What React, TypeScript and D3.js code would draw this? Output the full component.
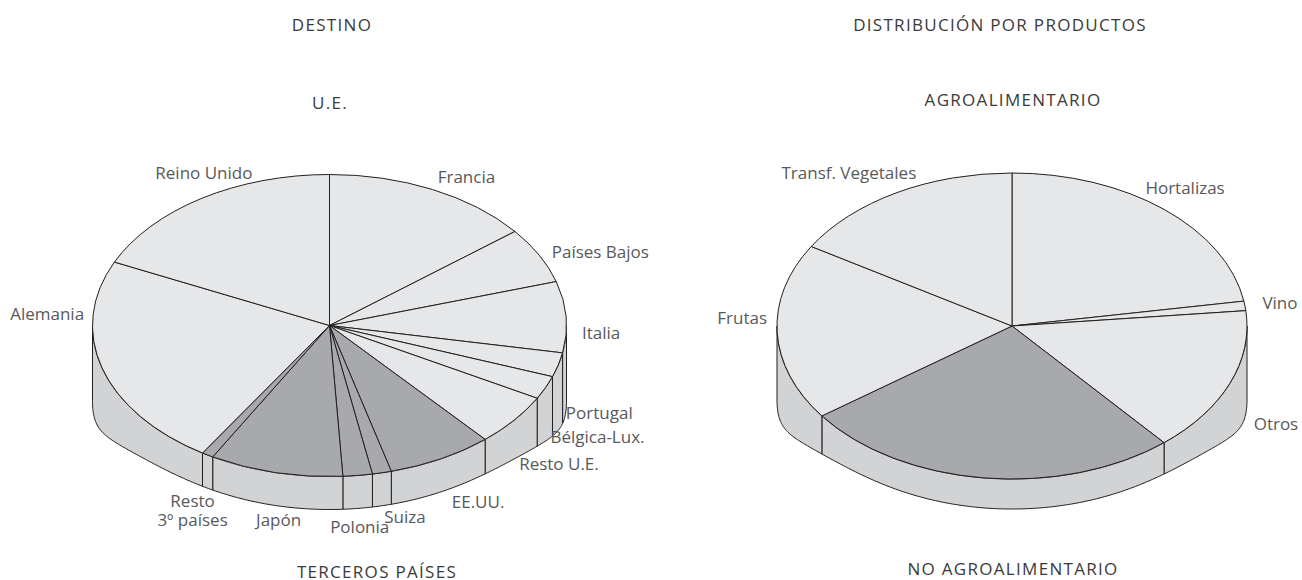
import * as d3 from "d3";
import React from "react";

// DESTINO (%), clockwise from 12 o'clock
const destinoLabels = [
  "Francia", "Países Bajos", "Italia", "Portugal", "Bélgica-Lux.", "Resto U.E.",
  "EE.UU.", "Suiza", "Polonia", "Japón", "Resto|3º países", "Alemania", "Reino Unido",
];
const destinoValues = [14.3, 6.0, 7.6, 2.6, 2.5, 5.6, 7.2, 1.3, 2.0, 9.1, 0.8, 22.9, 18.1];
const destinoGroup = ["ue", "ue", "ue", "ue", "ue", "ue", "tp", "tp", "tp", "tp", "tp", "ue", "ue"];

// DISTRIBUCIÓN POR PRODUCTOS
const productoLabels = ["Hortalizas", "Vino", "Otros", "", "Frutas", "Transf. Vegetales"];
const productoValues = [22.4, 1.0, 15.4, 26.2, 18.7, 16.3];
const productoGroup = ["agro", "agro", "agro", "noagro", "agro", "agro"];

// label nudges from the rim point at the slice middle (layout only)
const destinoNudge = [
  [34, -6], [61, 3], [35, 22], [41, 54], [52, 55], [45, 50],
  [37, 49], [23, 50], [2, 58], [3, 53], [-15, 52], [-55, -48], [2, -19],
];
const productoNudge = [[21, -15], [35, 3], [46, 47], [0, 0], [-35, -8], [-48, -14]];

const LIGHT = "#e6e7e8";
const DARK = "#a7a9ac";
const SIDE = "#d1d3d4";
const INK = "#231f20";
const TEXT = "#58595b";
const FONT = "'Open Sans', sans-serif";

type PieProps = {
  cx: number; cy: number; rx: number; ry: number;
  depth: number; drop: number;
  labels: string[]; values: number[]; groups: string[];
  nudges: number[][]; darkKey: string;
};

function Pie3D(p: PieProps) {
  const { cx, cy, rx, ry, depth, drop } = p;
  const arcs = d3.pie<number>().sort(null).value((d) => d)(p.values);

  const top = (a: number): [number, number] => [cx + rx * Math.sin(a), cy - ry * Math.cos(a)];
  // bottom contour of the wall: shifted rim, pulled further down near the sides
  const bottom = (a: number): [number, number] => [
    cx + rx * Math.sin(a),
    cy - ry * Math.cos(a) + depth + drop * Math.pow(Math.sin(a), 8),
  ];

  const line = d3.line<[number, number]>();

  const sides = arcs.map((d, i) => {
    const s0 = Math.max(d.startAngle, Math.PI / 2);
    const s1 = Math.min(d.endAngle, (3 * Math.PI) / 2);
    if (s1 <= s0) return null;
    const n = Math.max(4, Math.ceil((s1 - s0) * 80));
    const angs = d3.range(n + 1).map((k) => s0 + ((s1 - s0) * k) / n);
    const pts = angs.map(top).concat(angs.slice().reverse().map(bottom));
    return <path key={"s" + i} d={line(pts) + "Z"} fill={SIDE} stroke={INK} strokeWidth={1} strokeLinejoin="round" />;
  });

  const tops = arcs.map((d, i) => {
    const [x0, y0] = top(d.startAngle);
    const [x1, y1] = top(d.endAngle);
    const large = d.endAngle - d.startAngle > Math.PI ? 1 : 0;
    const path = `M${cx},${cy}L${x0},${y0}A${rx},${ry} 0 ${large} 1 ${x1},${y1}Z`;
    return (
      <path key={"t" + i} d={path} fill={p.groups[i] === p.darkKey ? DARK : LIGHT}
        stroke={INK} strokeWidth={1} strokeLinejoin="round" />
    );
  });

  const labels = arcs.flatMap((d, i) => {
    const name = p.labels[i];
    if (!name) return [];
    const [mx, my] = top((d.startAngle + d.endAngle) / 2);
    const x = mx + p.nudges[i][0];
    const y = my + p.nudges[i][1];
    return name.split("|").map((t, k) => (
      <text key={"l" + i + "_" + k} x={x} y={y + k * 19} textAnchor="middle"
        fontFamily={FONT} fontSize={17} fill={TEXT}>
        {t}
      </text>
    ));
  });

  return (
    <g>
      {sides}
      {tops}
      {labels}
    </g>
  );
}

function Title({ x, y, text }: { x: number; y: number; text: string }) {
  return (
    <text x={x} y={y} textAnchor="middle" fontFamily={FONT} fontSize={17} letterSpacing={1.3} fill={"#3a3a3c"}>
      {text}
    </text>
  );
}

export default function App() {
  return (
    <svg width={1302} height={580} style={{ position: "absolute", left: 0, top: 0, background: "#fff" }}>
      <Title x={332} y={31} text="DESTINO" />
      <Title x={330} y={109} text="U.E." />
      <Title x={377} y={578} text="TERCEROS PAÍSES" />
      <Title x={1000} y={31} text="DISTRIBUCIÓN POR PRODUCTOS" />
      <Title x={1013} y={106} text="AGROALIMENTARIO" />
      <Title x={1013} y={575} text="NO AGROALIMENTARIO" />
      <Pie3D cx={329.5} cy={325.5} rx={237} ry={151} depth={33} drop={43}
        labels={destinoLabels} values={destinoValues} groups={destinoGroup}
        nudges={destinoNudge} darkKey="tp" />
      <Pie3D cx={1012} cy={326} rx={235} ry={153} depth={30} drop={44}
        labels={productoLabels} values={productoValues} groups={productoGroup}
        nudges={productoNudge} darkKey="noagro" />
    </svg>
  );
}
